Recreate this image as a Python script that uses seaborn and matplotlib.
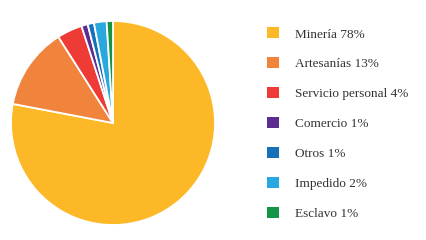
import matplotlib
matplotlib.use("Agg")
import matplotlib.pyplot as plt
from matplotlib.patches import Patch
import seaborn as sns

categories = ["Minería", "Artesanías", "Servicio personal", "Comercio", "Otros", "Impedido", "Esclavo"]
values = [78, 13, 4, 1, 1, 2, 1]
labels = [f"{c} {v}%" for c, v in zip(categories, values)]
colors = ["#FDB827", "#F0843C", "#EE3B36", "#5C2D91", "#1671B8", "#29A8E0", "#139447"]

sns.set_theme(style="white")
plt.rcParams["font.family"] = ["Liberation Serif", "DejaVu Serif"]

fig = plt.figure(figsize=(4.26, 2.4), dpi=100)
ax = fig.add_axes([11 / 426, 15 / 240, 204 / 426, 204 / 240])
ax.pie(values, colors=colors, startangle=90, counterclock=False,
       wedgeprops=dict(edgecolor="white", linewidth=1.3))
ax.set_xlim(-1.0, 1.0)
ax.set_ylim(-1.0, 1.0)
ax.set_aspect("equal")
ax.axis("off")

handles = [Patch(facecolor=c, edgecolor="none") for c in colors]
leg = fig.legend(handles, labels, loc="upper left", bbox_to_anchor=(267 / 426, 1 - 27.5 / 240),
                 frameon=False, fontsize=9.5, handlelength=0.9, handleheight=0.9,
                 handletextpad=1.25, labelspacing=1.28, borderaxespad=0, borderpad=0)
for t in leg.get_texts():
    t.set_color("#333333")

fig.savefig("out.png", dpi=100)
